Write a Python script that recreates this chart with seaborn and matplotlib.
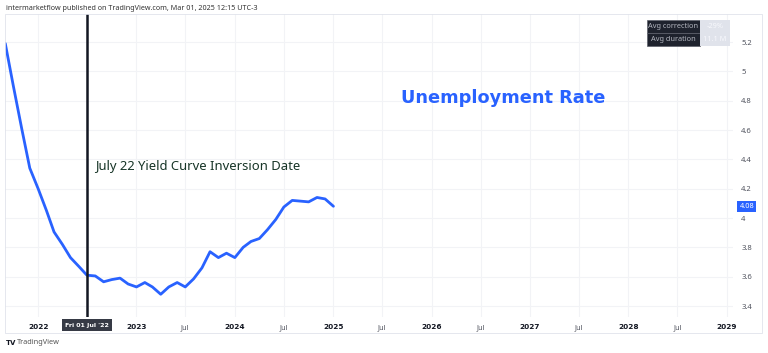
import pandas as pd
import numpy as np
import matplotlib.pyplot as plt
import matplotlib.dates as mdates
import matplotlib.transforms as mtransforms
import seaborn as sns

# US unemployment rate (smoothed, monthly)
months = pd.date_range('2021-09-01', '2025-01-01', freq='MS')
rate = [5.19, 4.90, 4.61, 4.34, 4.20, 4.05, 3.905, 3.82, 3.73, 3.67, 3.61,
        3.605, 3.565, 3.58, 3.59, 3.55, 3.53, 3.56, 3.53, 3.48, 3.53, 3.56,
        3.53, 3.585, 3.66, 3.77, 3.73, 3.76, 3.73, 3.80, 3.84, 3.86, 3.92,
        3.99, 4.075, 4.12, 4.115, 4.11, 4.14, 4.13, 4.08]
df = pd.DataFrame({'date': months, 'rate': rate})

y_ticks = [3.4, 3.6, 3.8, 4.0, 4.2, 4.4, 4.6, 4.8, 5.0, 5.2]
y_labels = ['3.4', '3.6', '3.8', '4', '4.2', '4.4', '4.6', '4.8', '5', '5.2']
x_ticks = pd.to_datetime(['2022-01-01', '2023-01-01', '2023-07-01', '2024-01-01',
                          '2024-07-01', '2025-01-01', '2025-07-01', '2026-01-01',
                          '2026-07-01', '2027-01-01', '2027-07-01', '2028-01-01',
                          '2028-07-01', '2029-01-01'])
x_labels = ['2022', '2023', 'Jul', '2024', 'Jul', '2025', 'Jul', '2026',
            'Jul', '2027', 'Jul', '2028', 'Jul', '2029']
grid_x = pd.date_range('2022-01-01', '2029-01-01', freq='6MS')
inversion_date = pd.Timestamp('2022-07-01')
last_value = 4.08
stats_names = ['Avg correction', 'Avg duration']
stats_values = ['-29%', '11.1 M']

BLUE = '#2962ff'
GRID = '#f2f3f6'
DARK = '#131722'

sns.set_theme(style='white')
plt.rcParams['font.family'] = ['Noto Sans', 'DejaVu Sans']

fig = plt.figure(figsize=(7.68, 3.53), dpi=100)
ax = fig.add_axes([5 / 768, 1 - 317 / 353, 728 / 768, 303 / 353])

sns.lineplot(data=df, x='date', y='rate', ax=ax, color=BLUE, lw=2, zorder=3)

ax.set_xlim(pd.Timestamp('2021-08-31'), pd.Timestamp('2029-01-23'))
ax.set_ylim(3.325, 5.391)

# grid
for d in grid_x:
    ax.axvline(d, color=GRID, lw=0.8, zorder=0)
for v in y_ticks:
    ax.axhline(v, color=GRID, lw=0.8, zorder=0)

ax.yaxis.tick_right()
ax.set_yticks(y_ticks)
ax.set_yticklabels(y_labels, fontsize=5.5, color='#50535e')
ax.set_xticks(x_ticks)
ax.set_xticklabels(x_labels, fontsize=5.3, color=DARK)
for lab in ax.get_xticklabels():
    if lab.get_text() != 'Jul':
        lab.set_family('DejaVu Sans')
        lab.set_fontweight('bold')
    else:
        lab.set_color('#50535e')
ax.tick_params(axis='both', length=0)
ax.tick_params(axis='y', pad=6)
ax.tick_params(axis='x', pad=5)
ax.set_xlabel('')
ax.set_ylabel('')
for s in ax.spines.values():
    s.set_visible(False)

# inversion marker
ax.axvline(inversion_date, color=DARK, lw=1.8, zorder=4)
ax.text(inversion_date, -0.027, "Fri 01 Jul '22", transform=ax.get_xaxis_transform(),
        ha='center', va='center', fontsize=4.5, color='white', fontweight='bold',
        family='DejaVu Sans',
        bbox=dict(boxstyle='square,pad=0.55', fc='#363a45', ec='none'), zorder=5)

ax.text(0.1236, 0.498, 'July 22 Yield Curve Inversion Date', transform=ax.transAxes,
        fontsize=9.4, color='#173527', ha='left', va='center')
ax.text(0.684, 0.723, 'Unemployment Rate', transform=ax.transAxes,
        fontsize=12.8, color=BLUE, ha='center', va='center', fontweight='bold',
        family='DejaVu Sans')

# last value tag on the price scale
trans = mtransforms.blended_transform_factory(ax.transAxes, ax.transData)
ax.text(1.019, last_value, f'{last_value:.2f}', transform=trans, ha='center', va='center',
        fontsize=5.3, color='white',
        bbox=dict(boxstyle='square,pad=0.3', fc=BLUE, ec='none'), zorder=5)

# stats table top right
for i, (k, v) in enumerate(zip(stats_names, stats_values)):
    top = 20 + i * 13
    fig.add_artist(plt.Rectangle((647 / 768, 1 - (top + 12.5) / 353), 53 / 768, 12.5 / 353,
                                 transform=fig.transFigure, fc='#1e222d', ec='#5d606b', lw=0.5))
    fig.add_artist(plt.Rectangle((700 / 768, 1 - (top + 12.5) / 353), 30 / 768, 12.5 / 353,
                                 transform=fig.transFigure, fc='#e0e3eb', ec='none'))
    fig.text(673.5 / 768, 1 - (top + 6.5) / 353, k, ha='center', va='center',
             fontsize=5.3, color='#b2b5be')
    fig.text(715 / 768, 1 - (top + 6.5) / 353, v, ha='center', va='center',
             fontsize=5.3, color='#f8f9fd')

# frame around chart + price scale
fig.add_artist(plt.Rectangle((5 / 768, 1 - 333 / 353), 757 / 768, 319 / 353,
                             transform=fig.transFigure, fill=False, ec='#e0e3eb', lw=0.6))

fig.text(6 / 768, 1 - 8 / 353,
         'intermarketflow published on TradingView.com, Mar 01, 2025 12:15 UTC-3',
         fontsize=5.2, color='#333333', ha='left', va='center')
fig.text(6 / 768, 1 - 343 / 353, 'TV', fontsize=5.0, fontweight='bold', color=DARK,
         family='DejaVu Sans', ha='left', va='center')
fig.text(17 / 768, 1 - 343 / 353, 'TradingView', fontsize=5.3, color='#555555',
         ha='left', va='center')

fig.savefig('out.png', dpi=100, facecolor='white')
